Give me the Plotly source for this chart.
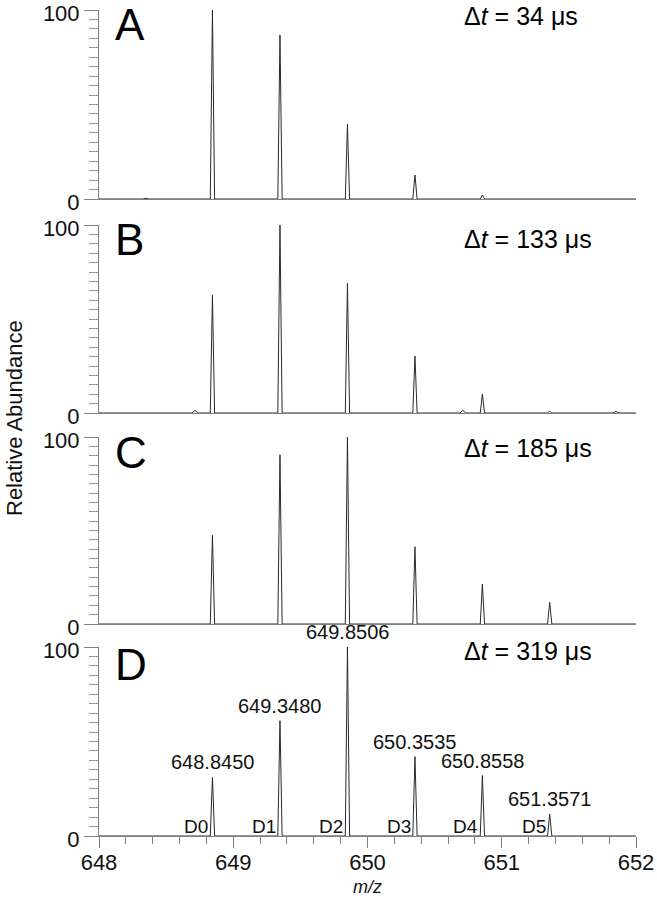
import numpy as np
import plotly.graph_objects as go

# ---------------- data ----------------
panel_letters = ["A", "B", "C", "D"]
delta_t_us = ["34", "133", "185", "319"]

# isotope peak centres (m/z)
centres = [648.845, 649.348, 649.8506, 650.3535, 650.8558, 651.3571]

# relative abundances of peaks D0..D5 in each panel
heights_A = [100, 86.8, 39.6, 12.7, 2.1, 0.3]
heights_B = [62.8, 100, 69.0, 30.3, 10.0, 1.0]
heights_C = [47.4, 90.5, 100, 41.3, 21.4, 11.6]
heights_D = [31.0, 61.0, 100, 42.0, 32.0, 11.6]

# small extra peaks (m/z, abundance)
minor_A_mz = [648.35]
minor_A_h = [0.4]
minor_B_mz = [648.715, 650.71, 651.85]
minor_B_h = [1.4, 1.4, 0.8]
minor_C_mz = []
minor_C_h = []
minor_D_mz = []
minor_D_h = []

peak_labels_D = ["648.8450", "649.3480", "649.8506", "650.3535", "650.8558", "651.3571"]
d_labels = ["D0", "D1", "D2", "D3", "D4", "D5"]

x_ticks = [648, 649, 650, 651, 652]
y_ticks = [0, 100]

# ---------------- build figure ----------------
W, H = 657, 900
L, R, T, B = 99, 21, 10, 64
plot_h = H - T - B
panel_px = [(10, 199), (225, 413), (437, 624), (647, 836)]
domains = [[(836 - b) / plot_h, (836 - t) / plot_h] for t, b in panel_px]
letter_off = [15, 14, 16, 17]      # px from panel top to letter centre
dt_off = [6, 14, 11, 4]            # px from panel top to Δt text centre


def spectrum(mz, h, extra_mz, extra_h):
    pts = sorted([(m, v, 0.016) for m, v in zip(mz, h)] +
                 [(m, v, 0.022) for m, v in zip(extra_mz, extra_h)])
    xs, ys = [648.0], [0.0]
    for m, v, w in pts:
        xs += [m - w, m, m + w]
        ys += [0.0, v, 0.0]
    xs.append(652.0)
    ys.append(0.0)
    return xs, ys


all_h = [heights_A, heights_B, heights_C, heights_D]
all_mx = [minor_A_mz, minor_B_mz, minor_C_mz, minor_D_mz]
all_mh = [minor_A_h, minor_B_h, minor_C_h, minor_D_h]

fig = go.Figure()
font = "Liberation Sans, Arial, sans-serif"
axis_col = "#808080"

for i in range(4):
    xs, ys = spectrum(centres, all_h[i], all_mx[i], all_mh[i])
    ax = "" if i == 0 else str(i + 1)
    ph = panel_px[i][1] - panel_px[i][0]
    fig.add_trace(go.Scatter(x=xs, y=ys, mode="lines",
                             line=dict(color="#2a2a2a", width=1),
                             xaxis="x" + ax, yaxis="y" + ax,
                             showlegend=False, hoverinfo="skip"))
    last = (i == 3)
    xa = dict(domain=[0, 1], range=[648, 652], anchor="y" + ax,
              automargin=False,
              showline=True, linecolor=axis_col, linewidth=1,
              showgrid=False, zeroline=False,
              tickvals=x_ticks if last else [],
              ticktext=[str(v) for v in x_ticks] if last else [],
              ticks="outside" if last else "", ticklen=11, tickcolor=axis_col,
              tickfont=dict(family=font, size=22, color="#111"),
              ticklabeloverflow="allow",
              showticklabels=last)
    if last:
        xa["minor"] = dict(dtick=0.2, tick0=648, ticks="outside", ticklen=7,
                           tickcolor=axis_col)
        xa["ticklabelstandoff"] = -4
    else:
        xa["matches"] = "x4"
    ya = dict(domain=domains[i], range=[0, 100], anchor="x" + ax,
              automargin=False,
              showline=True, linecolor=axis_col, linewidth=1,
              showgrid=False, zeroline=False,
              tickvals=y_ticks, ticktext=[str(v) for v in y_ticks],
              ticks="outside", ticklen=14, tickcolor=axis_col,
              tickfont=dict(family=font, size=22, color="#111"),
              ticklabeloverflow="allow", ticklabelshift=3,
              minor=dict(dtick=5, tick0=0, ticks="outside", ticklen=9,
                         tickcolor="#999"))
    fig.update_layout(**{"xaxis" + ax: xa, "yaxis" + ax: ya})

    # panel letter
    fig.add_annotation(text=panel_letters[i], xref="x" + ax + " domain",
                       yref="y" + ax + " domain", x=0.026,
                       y=1 - letter_off[i] / ph,
                       xanchor="left", yanchor="middle", showarrow=False,
                       font=dict(family=font, size=44, color="#000"))
    # delta t
    fig.add_annotation(text="Δ<i>t</i> = " + delta_t_us[i] + " μs",
                       xref="x" + ax + " domain", yref="y" + ax + " domain",
                       x=0.676, y=1 - dt_off[i] / ph,
                       xanchor="left", yanchor="middle",
                       showarrow=False,
                       font=dict(family=font, size=25, color="#000"))

# peak labels in panel D
for m, v, lab, dl in zip(centres, heights_D, peak_labels_D, d_labels):
    fig.add_annotation(text=lab, xref="x4", yref="y4", x=m, y=v,
                       xanchor="center", yanchor="bottom", yshift=2,
                       showarrow=False,
                       font=dict(family=font, size=20, color="#111"))
    fig.add_annotation(text=dl, xref="x4", yref="y4", x=m - 0.015, y=0,
                       xanchor="right", yanchor="bottom", yshift=-3,
                       showarrow=False,
                       font=dict(family=font, size=19, color="#111"))

# axis titles
fig.add_annotation(text="Relative Abundance", xref="paper", yref="paper",
                   x=(14 - L) / 537, y=(836 - 418) / plot_h, textangle=-90,
                   xanchor="center", yanchor="middle", showarrow=False,
                   font=dict(family=font, size=22, color="#111"))
fig.add_annotation(text="<i>m/z</i>", xref="paper", yref="paper",
                   x=(367 - L) / 537, y=(836 - 887) / plot_h,
                   xanchor="center", yanchor="middle", showarrow=False,
                   font=dict(family=font, size=18, color="#111"))

fig.update_layout(template="none", width=W, height=H,
                  margin=dict(l=L, r=R, t=T, b=B, autoexpand=False),
                  paper_bgcolor="white", plot_bgcolor="white")

fig.write_html("out.html", config={"displayModeBar": False},
               post_script="document.body.style.margin='0px';")
